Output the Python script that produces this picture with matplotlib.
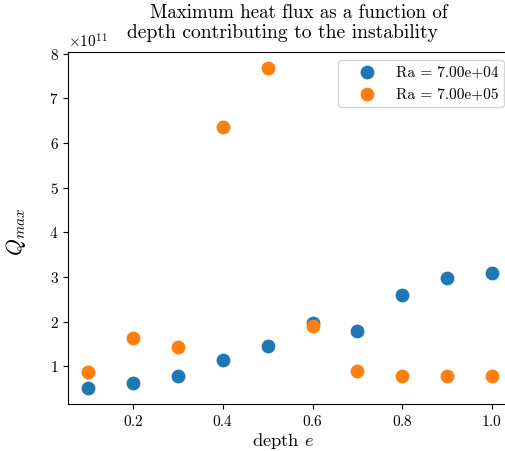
import matplotlib
matplotlib.use("Agg")
import matplotlib.pyplot as plt

plt.rcParams['font.family'] = ['cmr10', 'DejaVu Serif']
plt.rcParams['mathtext.fontset'] = 'cm'
plt.rcParams['axes.formatter.use_mathtext'] = True
plt.rcParams['axes.unicode_minus'] = False

depth = [0.1, 0.2, 0.3, 0.4, 0.5, 0.6, 0.7, 0.8, 0.9, 1.0]
q_ra_7e4 = [0.51e11, 0.63e11, 0.785e11, 1.135e11, 1.456e11, 1.98e11, 1.80e11, 2.60e11, 2.98e11, 3.08e11]
q_ra_7e5 = [0.866e11, 1.635e11, 1.44e11, 6.36e11, 7.68e11, 1.895e11, 0.90e11, 0.776e11, 0.776e11, 0.79e11]
labels = ["Ra = 7.00e+04", "Ra = 7.00e+05"]
title_lines = ["Maximum heat flux as a function of", "depth contributing to the instability"]

W, H = 506, 451
fig = plt.figure(figsize=(W / 100, H / 100), dpi=100)
left, right, top, bottom = 68.3, 512.0, 52.0, 404.2
ax = fig.add_axes([left / W, 1 - bottom / H, (right - left) / W, (bottom - top) / H])

ax.scatter(depth, q_ra_7e4, s=80, color='#1f77b4', label=labels[0], zorder=3)
ax.scatter(depth, q_ra_7e5, s=80, color='#ff7f0e', label=labels[1], zorder=3)

ax.set_xticks([0.2, 0.4, 0.6, 0.8, 1.0])
ax.tick_params(labelsize=11)
ax.yaxis.get_offset_text().set_fontsize(11)
ax.set_xlabel("depth $e$", fontsize=13.3, labelpad=1.5)
ax.xaxis.label.set_x(0.483)
ax.set_ylabel("$Q_{max}$", fontsize=15.5, labelpad=15)
ax.yaxis.label.set_y(0.49)
ax.legend(loc='upper right', fontsize=11, scatterpoints=1,
          handlelength=2.9, handletextpad=0.45)

fig.text(298.7 / W, 1 - 18.3 / H, title_lines[0], ha='center', va='baseline', fontsize=13.6)
fig.text(282.7 / W, 1 - 37.7 / H, title_lines[1], ha='center', va='baseline', fontsize=14.1)

fig.savefig("out.png", dpi=100)
